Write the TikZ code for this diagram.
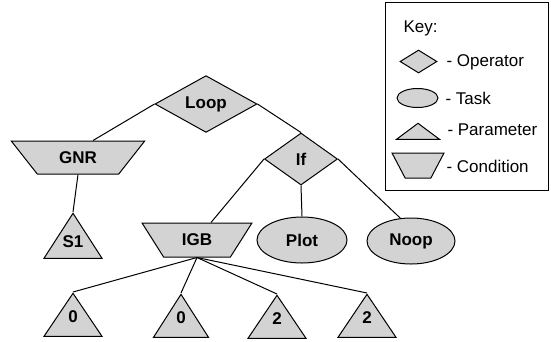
\documentclass[tikz,border=0pt]{standalone}
\usepackage{fontspec}
\setmainfont{Liberation Sans}
\usetikzlibrary{positioning,shapes.geometric}

\definecolor{shapegray}{RGB}{211,211,211}

\begin{document}
\begin{tikzpicture}[x=1pt, y=-1pt,
    every node/.style={font=\fontsize{17}{20}\selectfont},
    op/.style={diamond, draw, fill=shapegray, inner sep=0pt, font=\fontsize{17}{20}\selectfont\bfseries},
    task/.style={ellipse, draw, fill=shapegray, inner sep=0pt, font=\fontsize{17}{20}\selectfont\bfseries},
    param/.style={isosceles triangle, shape border rotate=90, isosceles triangle stretches,
        draw, fill=shapegray, inner sep=0pt, minimum width=58pt, minimum height=43pt,
        text depth=8pt, font=\fontsize{17}{20}\selectfont\bfseries},
    cond/.style={trapezium, shape border rotate=180, trapezium stretches=true,
        draw, fill=shapegray, inner sep=0pt, font=\fontsize{17}{20}\selectfont\bfseries},
    every path/.style={line width=1pt},
    keytext/.style={anchor=west, inner sep=0pt},
    keyshape/.style={inner sep=1pt, text depth=0pt}
]
\useasboundingbox (0,0) rectangle (551,341);

% tree
\node[op, minimum width=102pt, minimum height=55pt] (loop) at (206,104) {Loop};
\node[cond, minimum width=134pt, minimum height=33pt, trapezium left angle=45, trapezium right angle=45] (gnr) at (78,157.5) {GNR};
\node[param, anchor=apex] (s1) at (73,212) {S1};
\node[op, minimum width=73pt, minimum height=52pt] (ifop) at (301,159) {If};
\node[cond, minimum width=110pt, minimum height=34pt, trapezium left angle=51, trapezium right angle=51] (igb) at (197,240) {IGB};
\node[task, minimum width=90pt, minimum height=46pt] (plot) at (302,240) {Plot};
\node[task, minimum width=88pt, minimum height=46pt] (noop) at (411,241) {Noop};
\node[param, anchor=apex] (zeroa) at (73,292) {0};
\node[param, anchor=apex, minimum width=55pt] (zerob) at (181,293) {0};
\node[param, anchor=apex] (twoa) at (277,294) {2};
\node[param, anchor=apex] (twob) at (367,293) {2};

\draw (loop.west) -- ([xshift=15pt]gnr.north);
\draw (gnr.south) -- (s1.apex);
\draw (loop.east) -- (ifop.north);
\draw (ifop.west) -- ([xshift=14pt]igb.north);
\draw (ifop.south) -- (plot.north);
\draw (ifop.east) -- (noop.115);
\draw (igb.south) -- (zeroa.apex);
\draw (igb.south) -- (zerob.apex);
\draw (igb.south) -- (twoa.apex);
\draw (igb.south) -- (twob.apex);

% key
\draw (385,2) rectangle (548,190);
\node[keytext] (keytitle) at (403,28) {Key:};
\node[op, keyshape, minimum width=37pt, minimum height=23pt] (kop) at (418.5,61.5) {};
\node[task, keyshape, minimum width=41pt, minimum height=19pt] (ktask) at (417.5,98) {};
\node[param, keyshape, minimum width=43pt, minimum height=16pt, anchor=apex] (kparam) at (418,122) {};
\node[cond, keyshape, minimum width=52pt, minimum height=25pt, trapezium left angle=63, trapezium right angle=63] (kcond) at (418,165.5) {};
\node[keytext] (kopt) at (446,62) {- Operator};
\node[keytext] (ktaskt) at (445,98) {- Task};
\node[keytext] (kparamt) at (447,130) {- Parameter};
\node[keytext] (kcondt) at (446,166) {- Condition};
\end{tikzpicture}
\end{document}
